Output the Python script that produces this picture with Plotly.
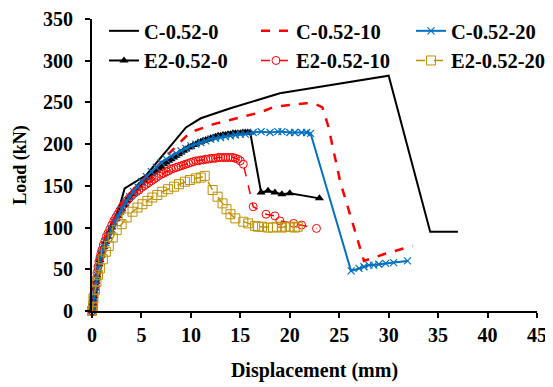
import plotly.graph_objects as go

# ---- data ----
c0_x = [0, 0.3, 0.5, 0.8, 1.2, 1.7, 2.3, 2.9, 3.3, 5.5, 8.0, 9.5, 11.0, 14.0, 19.0, 30.0, 34.2, 37.0]
c0_y = [0, 10, 30, 55, 72, 90, 110, 130, 147, 163, 198, 220, 231, 243, 261, 282, 95, 95]

c10_x = [0, 0.2, 0.4, 0.7, 1.0, 1.5, 2.0, 2.6, 3.2, 4.0, 5.0, 6.5, 7.8, 9.9, 12.3, 15.3, 17.0,
         18.5, 20.0, 21.7, 22.6, 23.3, 23.9, 25.1, 27.5, 29.5, 32.4]
c10_y = [0, 20, 40, 60, 75, 92, 105, 118, 130, 143, 156, 172, 189, 214, 224, 233, 238,
         245, 247, 249, 248, 244, 221, 155, 60, 68, 78]

c20_x = [0, 0.1, 0.2, 0.3, 0.4, 0.5, 0.6, 0.8, 1.0, 1.2, 1.4, 1.7, 2.0, 2.3, 2.6, 3.0, 3.4, 3.8,
         4.2, 4.6, 5.0, 5.5, 6.0, 6.5, 7.0, 7.5, 8.0, 8.5, 9.0, 9.5, 10.0, 10.5, 11.0, 11.5, 12.0,
         12.5, 13.0, 13.5, 14.0, 14.5, 15.0, 15.5, 16.3, 17.1, 18.0, 18.8, 19.2, 20.0, 20.5, 21.2,
         21.7, 22.1, 26.2, 27.0, 27.5, 28.0, 28.5, 29.0, 29.7, 30.5, 31.9]
c20_y = [0, 8, 17, 26, 35, 43, 50, 61, 69, 76, 82, 90, 98, 106, 113, 122, 130, 137,
         143, 149, 155, 161, 167, 172, 178, 182, 186, 189, 192, 195, 198, 200, 202, 204, 206,
         207, 208, 209, 210, 211, 212, 212, 214, 215, 214, 215, 215, 214, 214, 214,
         214, 213, 48, 51, 53, 55, 55, 56, 57, 58, 60]

e0_x = [0, 0.05, 0.1, 0.15, 0.2, 0.3, 0.4, 0.5, 0.6, 0.7, 0.8, 0.9, 1.0, 1.2, 1.4, 1.6, 1.8, 2.0,
        2.2, 2.4, 2.6, 2.8, 3.0, 3.25, 3.5, 3.75, 4.0, 4.25, 4.5, 4.75, 5.0, 5.25, 5.5, 5.75, 6.0,
        6.25, 6.5, 6.75, 7.0, 7.25, 7.5, 7.75, 8.0, 8.25, 8.5, 8.75, 9.0, 9.25, 9.5, 9.75, 10.0,
        10.25, 10.5, 10.75, 11.0, 11.25, 11.5, 11.75, 12.0, 12.25, 12.5, 12.75, 13.0, 13.25, 13.5,
        13.75, 14.0, 14.25, 14.5, 14.75, 15.0, 15.25, 15.5, 15.75, 16.0,
        17.1, 17.8, 18.5, 19.2, 20.0, 23.0]
e0_y = [0, 4, 9, 14, 18, 27, 35, 43, 50, 56, 61, 66, 70, 77, 83, 89, 95, 100,
        105, 110, 114, 118, 122, 127, 132, 136, 140, 144, 147, 150, 153, 156, 159, 161, 164,
        166, 168, 171, 173, 176, 178, 180, 182, 184, 186, 188, 190, 192, 194, 196, 197,
        199, 200, 202, 203, 204, 205, 206, 207, 208, 209, 210, 210, 211, 211,
        212, 212, 213, 213, 213, 213, 214, 214, 214, 214,
        142, 144, 142, 140, 141, 135]

e10_x = [0, 0.05, 0.1, 0.15, 0.2, 0.3, 0.4, 0.5, 0.6, 0.7, 0.8, 0.9, 1.0, 1.15, 1.3, 1.45, 1.6,
         1.8, 2.0, 2.2, 2.4, 2.6, 2.8, 3.0, 3.25, 3.5, 3.75, 4.0, 4.25, 4.5, 4.75, 5.0, 5.25,
         5.5, 5.75, 6.0, 6.25, 6.5, 6.75, 7.0, 7.25, 7.5, 7.75, 8.0, 8.25, 8.5, 8.75, 9.0, 9.25,
         9.5, 9.75, 10.0, 10.25, 10.5, 10.75, 11.0, 11.25, 11.5, 11.75, 12.0, 12.25, 12.5, 12.75,
         13.0, 13.25, 13.5, 13.75, 14.0, 14.25, 14.5, 14.75, 15.0, 15.3,
         16.3, 17.6, 18.5, 19.0, 20.4, 21.2, 22.7]
e10_y = [0, 5, 11, 16, 21, 30, 38, 46, 53, 59, 64, 69, 73, 79, 84, 89, 93,
         98, 103, 108, 112, 116, 120, 124, 128, 132, 135, 138, 141, 143, 145, 148, 150,
         152, 154, 156, 158, 160, 162, 164, 165, 167, 168, 170, 171, 172, 173, 174, 175,
         176, 177, 178, 179, 180, 180, 181, 181, 182, 182, 183, 183, 183, 184,
         184, 184, 184, 184, 184, 184, 183, 182, 180, 176,
         125, 116, 114, 108, 105, 103, 99]

e20_x = [0, 0.1, 0.15, 0.3, 0.45, 0.6, 0.8, 1.1, 1.4, 1.7, 2.1, 2.5, 3.0, 3.5, 4.1, 4.6, 5.1,
         5.6, 6.1, 6.6, 7.1, 7.7, 8.3, 8.8, 9.4, 9.9, 10.5, 11.0, 11.4, 12.2, 12.7, 13.2, 13.6,
         14.0, 14.5, 15.3, 15.8, 16.5, 16.8, 17.2, 17.8, 18.3, 18.7, 19.2, 19.5, 20.0, 20.5, 20.8]
e20_y = [0, 5, 15, 25, 35, 43, 51, 62, 71, 78, 88, 97, 104, 112, 119, 124, 128,
         132, 136, 139, 143, 146, 149, 152, 155, 157, 159, 160, 162, 145, 137, 129, 122,
         116, 111, 107, 105, 102, 101, 101, 100, 100, 101, 100, 101, 101, 100, 101]

x_ticks = [0, 5, 10, 15, 20, 25, 30, 35, 40, 45]
y_ticks = [0, 50, 100, 150, 200, 250, 300, 350]

RED = "#FF0000"
BLUE = "#0070C0"
GOLD = "#BF9000"
FONT = "Liberation Serif"

fig = go.Figure()
fig.add_trace(go.Scatter(x=c0_x, y=c0_y, name="C-0.52-0", mode="lines",
                         line=dict(color="black", width=2), legend="legend", cliponaxis=False))
fig.add_trace(go.Scatter(x=e0_x, y=e0_y, name="E2-0.52-0", mode="lines+markers",
                         line=dict(color="black", width=2),
                         marker=dict(symbol="triangle-up", size=8, color="black"),
                         legend="legend", cliponaxis=False))
fig.add_trace(go.Scatter(x=c10_x, y=c10_y, name="C-0.52-10", mode="lines",
                         line=dict(color=RED, width=2.5, dash="dash"), legend="legend2",
                         cliponaxis=False))
fig.add_trace(go.Scatter(x=e10_x, y=e10_y, name="E2-0.52-10", mode="lines+markers",
                         line=dict(color=RED, width=1.5, dash="dash"),
                         marker=dict(symbol="circle-open", size=8, color=RED, line=dict(width=1)),
                         legend="legend2", cliponaxis=False))
fig.add_trace(go.Scatter(x=c20_x, y=c20_y, name="C-0.52-20", mode="lines+markers",
                         line=dict(color=BLUE, width=2),
                         marker=dict(symbol="x-thin-open", size=7, color=BLUE, line=dict(width=1.2, color=BLUE)),
                         legend="legend3", cliponaxis=False))
fig.add_trace(go.Scatter(x=e20_x, y=e20_y, name="E2-0.52-20", mode="lines+markers",
                         line=dict(color=GOLD, width=1.5, dash="dash"),
                         marker=dict(symbol="square-open", size=9, color=GOLD, line=dict(width=1)),
                         legend="legend3", cliponaxis=False))

# The page body adds an 8 px offset, so margins are shifted to compensate.
# plot area on screen: x 92..537 px, y 19..311 px
PW, PH = 445.0, 292.0
leg_top = 1 + 8 / PH
leg_common = dict(orientation="v", xanchor="left", yanchor="top", y=leg_top,
                  bgcolor="rgba(0,0,0,0)", borderwidth=0,
                  font=dict(family=FONT, size=20.5, color="black", weight="bold"))

fig.update_layout(
    width=553, height=387,
    margin=dict(l=84, r=24, t=11, b=84, autoexpand=False),
    paper_bgcolor="white", plot_bgcolor="white",
    font=dict(family=FONT, size=20, color="black", weight="bold"),
    legend=dict(x=(104 - 92) / PW, **leg_common),
    legend2=dict(x=(256 - 92) / PW, **leg_common),
    legend3=dict(x=(411 - 92) / PW, **leg_common),
    xaxis=dict(range=[0, 45], tickvals=x_ticks, ticktext=[str(v) for v in x_ticks],
               automargin=False,
               showline=True, linecolor="black", linewidth=2, showgrid=False, zeroline=False,
               ticks="outside", ticklen=5, tickwidth=1.5, tickcolor="black",
               tickfont=dict(family=FONT, size=20, weight="bold"),
               title=dict(text="Displacement (mm)", standoff=18,
                          font=dict(family=FONT, size=20, weight="bold"))),
    yaxis=dict(range=[0, 350], tickvals=y_ticks, ticktext=[str(v) for v in y_ticks],
               automargin=False,
               showline=True, linecolor="black", linewidth=2, showgrid=False, zeroline=False,
               ticks="outside", ticklen=5, tickwidth=1.5, tickcolor="black",
               ticklabelstandoff=8,
               tickfont=dict(family=FONT, size=20, weight="bold"),
               title=dict(text="Load (kN)", standoff=12,
                          font=dict(family=FONT, size=18, weight="bold"))),
)

fig.write_html("out.html")
